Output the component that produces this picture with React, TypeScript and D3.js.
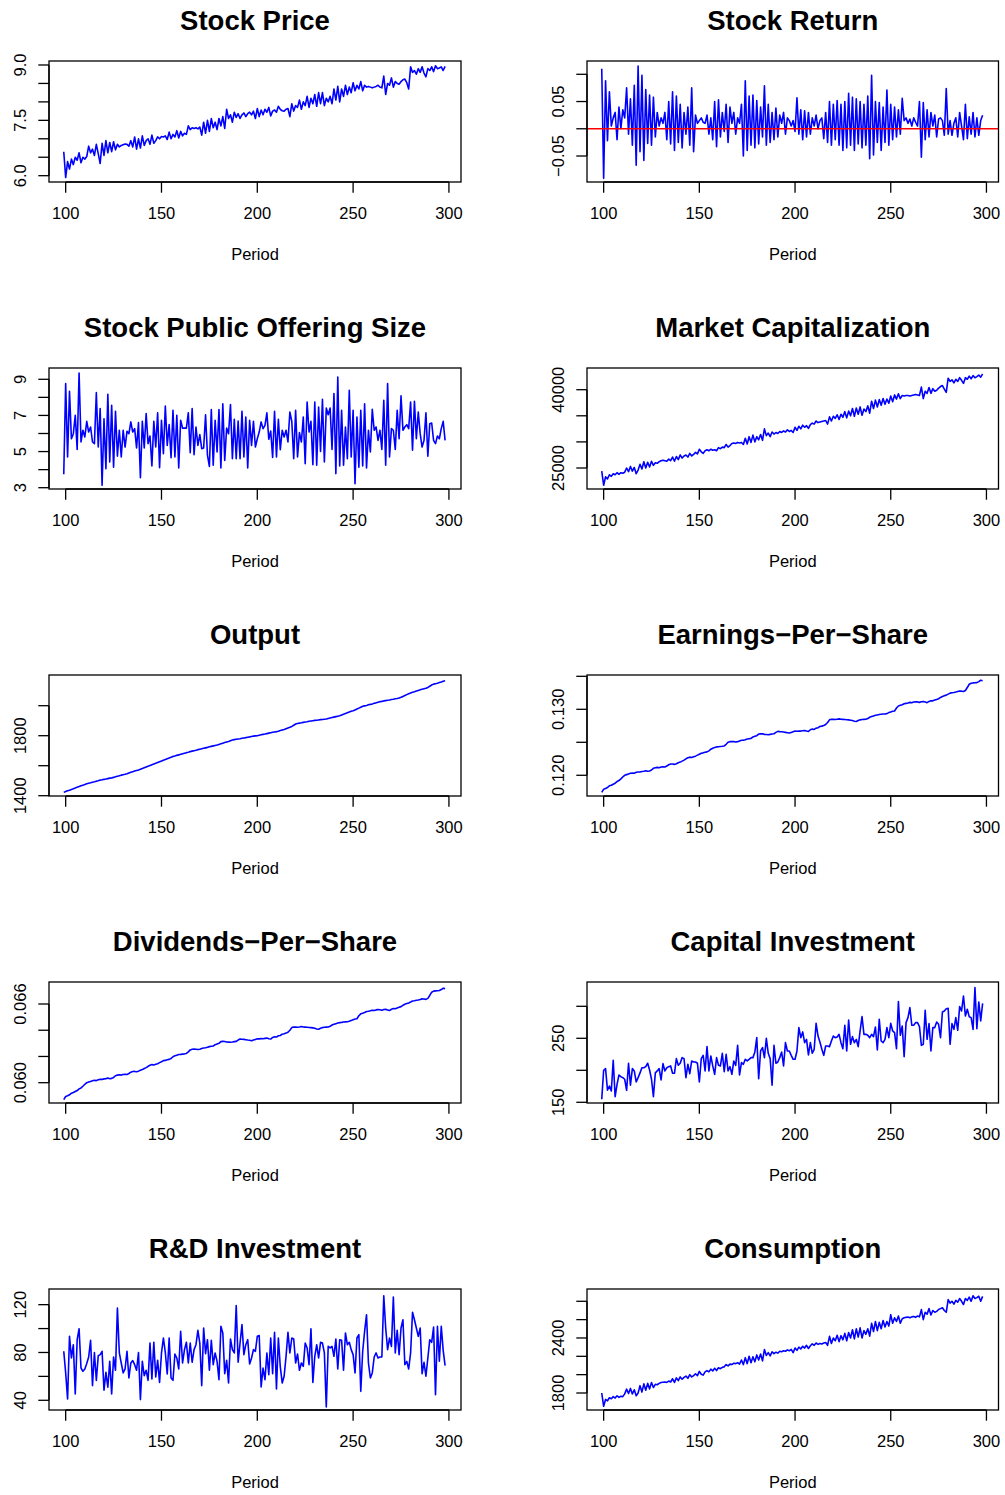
import React from "react";
import * as d3 from "d3";

// ---------- DATA (periods 99..298) ----------
const periods: number[] = d3.range(99, 299);

const stockPrice = [
  6.65, 5.95, 6.38, 6.18, 6.45, 6.30, 6.50, 6.42, 6.62, 6.35,
  6.50, 6.45, 6.52, 6.80, 6.62, 6.72, 6.55, 6.85, 6.60, 6.33,
  6.88, 6.55, 6.95, 6.62, 6.90, 6.65, 6.92, 6.70, 6.85, 6.78,
  6.82, 6.84, 6.86, 6.85, 6.80, 6.95, 6.78, 7.05, 6.72, 7.00,
  6.75, 7.08, 6.82, 6.95, 7.00, 6.85, 7.10, 6.88, 6.95, 7.05,
  7.00, 7.06, 7.05, 7.08, 6.98, 7.18, 7.00, 7.12, 7.05, 7.22,
  7.02, 7.20, 7.08, 7.15, 7.12, 7.35, 7.25, 7.30, 7.28, 7.30,
  7.27, 7.32, 7.10, 7.45, 7.15, 7.50, 7.20, 7.55, 7.30, 7.45,
  7.25, 7.55, 7.35, 7.60, 7.28, 7.80, 7.55, 7.65, 7.45, 7.72,
  7.58, 7.68, 7.55, 7.65, 7.70, 7.60, 7.68, 7.72, 7.65, 7.75,
  7.55, 7.82, 7.60, 7.78, 7.65, 7.80, 7.72, 7.85, 7.62, 7.75,
  7.78, 7.72, 7.88, 7.80, 7.76, 7.75, 7.80, 7.82, 7.60, 7.95,
  7.75, 7.90, 7.85, 8.05, 7.80, 8.00, 7.90, 8.15, 7.85, 8.10,
  7.95, 8.20, 7.88, 8.25, 7.95, 8.25, 7.90, 8.10, 8.00, 8.15,
  7.95, 8.35, 8.05, 8.42, 8.00, 8.35, 8.15, 8.45, 8.20, 8.40,
  8.25, 8.52, 8.30, 8.45, 8.35, 8.55, 8.30, 8.45, 8.40, 8.42,
  8.40, 8.38, 8.40, 8.42, 8.45, 8.40, 8.38, 8.70, 8.20, 8.50,
  8.45, 8.65, 8.40, 8.55, 8.50, 8.48, 8.55, 8.60, 8.62, 8.52,
  8.35, 8.95, 8.80, 8.85, 8.75, 8.90, 8.80, 8.95, 8.78, 8.68,
  8.90, 8.85, 8.95, 8.82, 8.98, 8.90, 8.92, 8.95, 8.85, 8.96,
];

const stockReturn = [
  0.110, -0.091, 0.088, -0.022, 0.068, 0.005, 0.020, 0.030, -0.020, 0.040,
  0.000, 0.035, 0.020, 0.075, -0.010, 0.055, -0.030, 0.080, -0.067, 0.115,
  -0.042, 0.098, -0.058, 0.072, -0.027, 0.062, -0.030, 0.058, -0.015, 0.030,
  0.005, 0.020, 0.010, 0.030, -0.020, 0.050, -0.028, 0.068, -0.040, 0.060,
  -0.025, 0.045, -0.035, 0.030, -0.010, 0.040, -0.030, 0.075, -0.042, 0.025,
  0.010, 0.015, 0.020, 0.012, 0.010, 0.025, -0.010, 0.020, -0.020, 0.050,
  -0.033, 0.053, -0.015, 0.030, -0.005, 0.045, -0.025, 0.040, 0.010, 0.030,
  -0.010, 0.020, 0.010, 0.045, -0.050, 0.088, -0.040, 0.060, -0.030, 0.062,
  -0.035, 0.052, -0.028, 0.040, -0.015, 0.079, -0.030, 0.045, -0.025, 0.030,
  -0.020, 0.038, -0.015, 0.025, 0.010, 0.030, -0.010, 0.020, 0.015, 0.005,
  0.015, -0.005, 0.057, -0.010, 0.035, -0.020, 0.033, -0.015, 0.030, -0.010,
  0.020, 0.005, 0.025, 0.000, 0.015, 0.020, -0.018, 0.030, -0.025, 0.050,
  -0.030, 0.045, -0.020, 0.052, -0.030, 0.045, -0.040, 0.050, -0.035, 0.065,
  -0.030, 0.058, -0.040, 0.055, -0.028, 0.050, -0.035, 0.045, -0.030, 0.060,
  -0.055, 0.098, -0.048, 0.050, -0.025, 0.048, -0.040, 0.040, -0.025, 0.071,
  -0.030, 0.045, -0.020, 0.040, -0.015, 0.035, -0.010, 0.056, 0.015, 0.020,
  0.010, 0.018, 0.005, 0.020, 0.012, 0.005, 0.050, -0.052, 0.048, -0.020,
  0.035, -0.015, 0.030, 0.005, 0.025, -0.015, 0.018, 0.020, 0.015, -0.012,
  0.074, -0.010, 0.015, -0.012, 0.010, 0.020, -0.015, 0.030, 0.005, -0.020,
  0.045, -0.018, 0.022, -0.010, 0.030, -0.015, 0.020, -0.012, 0.015, 0.025,
];

const offeringSize = [
  3.74, 8.76, 4.70, 8.33, 5.71, 5.99, 7.01, 5.12, 9.35, 5.53,
  6.18, 5.81, 6.67, 6.08, 6.36, 5.53, 5.44, 8.26, 5.25, 7.38,
  3.13, 6.82, 4.05, 8.17, 4.42, 7.56, 4.14, 7.23, 4.75, 6.18,
  4.70, 6.18, 5.25, 6.12, 5.99, 6.64, 6.08, 6.27, 5.20, 6.60,
  3.55, 6.67, 5.20, 7.10, 5.44, 5.86, 4.20, 6.67, 5.25, 7.15,
  4.11, 6.73, 4.88, 7.52, 5.34, 6.49, 4.66, 7.28, 4.70, 7.01,
  4.09, 6.73, 6.30, 6.30, 6.30, 7.15, 4.94, 7.38, 4.83, 6.36,
  5.34, 5.94, 5.16, 5.20, 7.04, 4.79, 4.18, 7.32, 4.24, 6.73,
  4.98, 7.32, 4.09, 7.65, 4.51, 6.30, 5.99, 7.60, 4.61, 6.78,
  4.61, 6.69, 4.61, 7.23, 4.70, 6.91, 4.09, 6.73, 5.34, 6.67,
  5.25, 5.71, 6.08, 6.64, 6.27, 6.45, 7.14, 5.68, 6.14, 4.68,
  7.23, 4.70, 6.78, 5.10, 6.18, 5.81, 6.18, 5.53, 7.19, 6.67,
  4.61, 7.28, 4.70, 6.05, 5.53, 6.91, 4.33, 7.74, 6.08, 6.67,
  4.27, 7.74, 4.24, 7.47, 5.01, 7.89, 4.42, 7.41, 7.04, 7.41,
  5.12, 8.21, 3.78, 9.13, 4.20, 7.28, 4.24, 6.36, 4.61, 8.39,
  4.70, 7.28, 3.22, 6.91, 4.14, 7.28, 4.20, 7.65, 4.09, 6.18,
  4.98, 7.34, 6.18, 6.36, 5.62, 6.18, 5.12, 7.84, 4.24, 8.76,
  4.70, 6.27, 6.18, 5.12, 7.28, 5.71, 8.08, 6.18, 6.36, 6.49,
  6.27, 7.74, 5.07, 7.78, 5.71, 7.19, 5.99, 5.25, 5.62, 7.15,
  4.74, 6.54, 6.58, 5.62, 5.44, 5.86, 5.71, 6.27, 6.67, 5.62,
];

const marketCap = [
  24400, 21700, 23300, 22900, 23700, 23400, 23900, 23700, 24100, 23800,
  24100, 24000, 24200, 25000, 24300, 25300, 24400, 25100, 23900, 24600,
  25700, 24800, 26200, 25000, 26100, 25200, 26300, 25500, 26000, 25900,
  26200, 26400, 26500, 26400, 26300, 26700, 26400, 27100, 26300, 27200,
  26600, 27500, 26900, 27300, 27500, 27100, 27800, 27300, 27600, 28000,
  27700, 28600, 28100, 27800, 28300, 28500, 28300, 28600, 28400, 28500,
  28300, 28900, 28700, 29000, 28900, 29500, 29000, 29300, 29700, 29800,
  29700, 29900, 29800, 29900, 29500, 30700, 29600, 31000, 29900, 31300,
  30000, 31000, 30400, 31400, 30300, 32500, 31200, 31700, 31000, 31900,
  31500, 31800, 31600, 32000, 31800, 32100, 31900, 32300, 32000, 32200,
  31800, 32800, 32200, 33000, 32500, 33200, 32800, 33100, 32600, 33300,
  33600, 33400, 34000, 33700, 33800, 33900, 34000, 34100, 33400, 34800,
  34000, 34900, 34500, 35200, 34300, 35300, 34700, 35800, 34600, 35900,
  35000, 36400, 34900, 36500, 35300, 36700, 35100, 36300, 35800, 36900,
  35500, 37800, 36400, 38000, 36700, 38100, 37000, 38300, 37200, 38200,
  37400, 38800, 37700, 39000, 38200, 39200, 38300, 38900, 38800, 38900,
  38900, 38800, 38900, 39000, 39100, 39000, 38900, 40500, 38300, 39700,
  39300, 40400, 39300, 40200, 39700, 39900, 40300, 40600, 40800, 40100,
  39500, 42200, 41600, 41900, 41300, 42000, 41600, 42300, 41800, 41200,
  42300, 42000, 42600, 42100, 42700, 42300, 42500, 42800, 42400, 43000,
];

const output = [
  1422, 1428, 1433, 1437, 1442, 1446, 1451, 1457, 1461, 1466,
  1470, 1474, 1479, 1483, 1486, 1490, 1493, 1497, 1500, 1504,
  1506, 1509, 1511, 1514, 1517, 1519, 1522, 1526, 1530, 1533,
  1537, 1540, 1543, 1547, 1552, 1556, 1560, 1564, 1568, 1572,
  1577, 1582, 1587, 1592, 1597, 1601, 1606, 1611, 1616, 1621,
  1626, 1631, 1637, 1642, 1647, 1652, 1657, 1662, 1665, 1669,
  1672, 1676, 1679, 1683, 1687, 1690, 1694, 1697, 1700, 1703,
  1707, 1710, 1713, 1716, 1719, 1722, 1726, 1729, 1732, 1735,
  1738, 1742, 1746, 1750, 1754, 1758, 1762, 1767, 1771, 1774,
  1776, 1778, 1780, 1783, 1785, 1787, 1790, 1792, 1795, 1797,
  1799, 1800, 1803, 1806, 1809, 1811, 1814, 1817, 1820, 1823,
  1825, 1827, 1830, 1834, 1838, 1842, 1847, 1852, 1856, 1862,
  1870, 1878, 1881, 1884, 1886, 1889, 1891, 1893, 1896, 1898,
  1900, 1902, 1903, 1905, 1907, 1908, 1910, 1911, 1915, 1918,
  1921, 1924, 1927, 1930, 1933, 1938, 1943, 1948, 1953, 1958,
  1963, 1967, 1972, 1978, 1984, 1990, 1996, 1999, 2002, 2006,
  2009, 2012, 2016, 2019, 2023, 2027, 2029, 2032, 2034, 2036,
  2038, 2041, 2043, 2046, 2048, 2051, 2056, 2062, 2068, 2074,
  2080, 2085, 2089, 2093, 2098, 2102, 2106, 2110, 2113, 2116,
  2122, 2130, 2138, 2144, 2147, 2150, 2154, 2158, 2163, 2167,
];

const earningsPerShare = [
  0.11742, 0.11790, 0.11800, 0.11815, 0.11840, 0.11850, 0.11865, 0.11880, 0.11905, 0.11920,
  0.11945, 0.11975, 0.12000, 0.12010, 0.12020, 0.12030, 0.12035, 0.12032, 0.12045, 0.12050,
  0.12050, 0.12058, 0.12062, 0.12070, 0.12060, 0.12065, 0.12080, 0.12105, 0.12115, 0.12120,
  0.12115, 0.12125, 0.12130, 0.12125, 0.12140, 0.12160, 0.12170, 0.12172, 0.12165, 0.12175,
  0.12190, 0.12200, 0.12215, 0.12230, 0.12250, 0.12265, 0.12275, 0.12270, 0.12280, 0.12290,
  0.12305, 0.12320, 0.12335, 0.12340, 0.12350, 0.12355, 0.12370, 0.12395, 0.12410, 0.12420,
  0.12430, 0.12432, 0.12436, 0.12440, 0.12445, 0.12470, 0.12500, 0.12510, 0.12512, 0.12510,
  0.12505, 0.12510, 0.12520, 0.12530, 0.12532, 0.12540, 0.12550, 0.12555, 0.12560, 0.12580,
  0.12590, 0.12600, 0.12625, 0.12630, 0.12628, 0.12620, 0.12618, 0.12615, 0.12620, 0.12625,
  0.12630, 0.12650, 0.12665, 0.12662, 0.12660, 0.12655, 0.12650, 0.12645, 0.12640, 0.12650,
  0.12660, 0.12670, 0.12668, 0.12672, 0.12670, 0.12675, 0.12680, 0.12670, 0.12665, 0.12690,
  0.12700, 0.12695, 0.12715, 0.12720, 0.12740, 0.12745, 0.12755, 0.12770, 0.12800, 0.12840,
  0.12850, 0.12848, 0.12845, 0.12850, 0.12855, 0.12850, 0.12848, 0.12845, 0.12842, 0.12840,
  0.12835, 0.12830, 0.12820, 0.12815, 0.12830, 0.12840, 0.12845, 0.12848, 0.12850, 0.12860,
  0.12880, 0.12890, 0.12900, 0.12910, 0.12915, 0.12920, 0.12925, 0.12928, 0.12930, 0.12935,
  0.12950, 0.12960, 0.12970, 0.12975, 0.13020, 0.13050, 0.13060, 0.13070, 0.13085, 0.13090,
  0.13095, 0.13105, 0.13100, 0.13110, 0.13115, 0.13112, 0.13105, 0.13115, 0.13118, 0.13110,
  0.13100, 0.13120, 0.13130, 0.13128, 0.13140, 0.13150, 0.13160, 0.13180, 0.13195, 0.13205,
  0.13215, 0.13230, 0.13245, 0.13250, 0.13255, 0.13262, 0.13270, 0.13278, 0.13275, 0.13270,
  0.13285, 0.13330, 0.13380, 0.13395, 0.13400, 0.13402, 0.13405, 0.13420, 0.13440, 0.13434,
];

const dividendsPerShare = [
  0.05871, 0.05895, 0.05900, 0.05908, 0.05920, 0.05925, 0.05933, 0.05940, 0.05953, 0.05960,
  0.05973, 0.05988, 0.06000, 0.06005, 0.06010, 0.06015, 0.06018, 0.06016, 0.06023, 0.06025,
  0.06025, 0.06029, 0.06031, 0.06035, 0.06030, 0.06033, 0.06040, 0.06053, 0.06058, 0.06060,
  0.06058, 0.06063, 0.06065, 0.06063, 0.06070, 0.06080, 0.06085, 0.06086, 0.06083, 0.06088,
  0.06095, 0.06100, 0.06108, 0.06115, 0.06125, 0.06133, 0.06138, 0.06135, 0.06140, 0.06145,
  0.06153, 0.06160, 0.06168, 0.06170, 0.06175, 0.06178, 0.06185, 0.06198, 0.06205, 0.06210,
  0.06215, 0.06216, 0.06218, 0.06220, 0.06223, 0.06235, 0.06250, 0.06255, 0.06256, 0.06255,
  0.06253, 0.06255, 0.06260, 0.06265, 0.06266, 0.06270, 0.06275, 0.06278, 0.06280, 0.06290,
  0.06295, 0.06300, 0.06313, 0.06315, 0.06314, 0.06310, 0.06309, 0.06308, 0.06310, 0.06313,
  0.06315, 0.06325, 0.06333, 0.06331, 0.06330, 0.06328, 0.06325, 0.06323, 0.06320, 0.06325,
  0.06330, 0.06335, 0.06334, 0.06336, 0.06335, 0.06338, 0.06340, 0.06335, 0.06333, 0.06345,
  0.06350, 0.06348, 0.06358, 0.06360, 0.06370, 0.06373, 0.06378, 0.06385, 0.06400, 0.06420,
  0.06425, 0.06424, 0.06423, 0.06425, 0.06428, 0.06425, 0.06424, 0.06423, 0.06421, 0.06420,
  0.06418, 0.06415, 0.06410, 0.06408, 0.06415, 0.06420, 0.06423, 0.06424, 0.06425, 0.06430,
  0.06440, 0.06445, 0.06450, 0.06455, 0.06458, 0.06460, 0.06463, 0.06464, 0.06465, 0.06468,
  0.06475, 0.06480, 0.06485, 0.06488, 0.06510, 0.06525, 0.06530, 0.06535, 0.06543, 0.06545,
  0.06548, 0.06553, 0.06550, 0.06555, 0.06558, 0.06556, 0.06553, 0.06558, 0.06559, 0.06555,
  0.06550, 0.06560, 0.06565, 0.06564, 0.06570, 0.06575, 0.06580, 0.06590, 0.06598, 0.06603,
  0.06608, 0.06615, 0.06623, 0.06625, 0.06628, 0.06631, 0.06635, 0.06639, 0.06638, 0.06635,
  0.06643, 0.06665, 0.06690, 0.06698, 0.06700, 0.06701, 0.06703, 0.06710, 0.06720, 0.06717,
];

const capitalInvestment = [
  154.7, 200, 202.6, 169, 175.5, 167.7, 215.6, 158.8, 178, 192.7,
  190, 188.5, 186, 168.7, 211, 176.6, 202.6, 199, 181.8, 188.5,
  196, 204, 204, 205.7, 211, 200.5, 186, 158.8, 196, 199,
  202.6, 185, 210.4, 199, 204, 205.7, 206.8, 195.3, 195.3, 218.2,
  207.8, 211, 219.8, 218.2, 188.5, 209.4, 194.8, 214.6, 213, 213,
  211, 181.8, 218.2, 223.4, 199, 237, 199, 222.4, 206.8, 193.7,
  219.8, 207.8, 206.8, 226.6, 197.9, 225, 199, 205.7, 193.7, 214.6,
  207.8, 239, 192.7, 212, 209.4, 217.2, 214.6, 217.2, 219.8, 219.8,
  228.6, 251, 187, 230.2, 235.6, 219.8, 250, 226.6, 218.2, 176.6,
  239, 211, 213, 219.8, 228.6, 206.8, 243.2, 230.2, 230.2, 223.4,
  217.2, 217.2, 230.2, 266.7, 251, 260, 243.2, 248.4, 224, 243.2,
  226.6, 232.8, 273.4, 253.6, 244.3, 232.8, 223.4, 238, 238, 237,
  245.8, 253.6, 251, 252, 256.2, 243.2, 233.8, 270.3, 230.2, 278.6,
  240.6, 252.6, 243.2, 248.4, 237, 261.5, 283.8, 256.2, 256.2, 254.7,
  251, 256.2, 252.6, 267.7, 231.8, 279.7, 245.8, 243.2, 248.4, 266.7,
  251, 273.4, 261.5, 258.8, 233.8, 307.3, 254.7, 269.3, 221.4, 274.5,
  282.3, 297.9, 270.3, 270.3, 274.5, 274.5, 268.2, 239, 240.6, 293.7,
  248.4, 272.9, 230.2, 266.7, 266.7, 275.5, 271.9, 251, 291.1, 292.7,
  296.3, 296.8, 240.6, 272.9, 264, 282.3, 262.5, 299.5, 292.7, 316.1,
  284.9, 295.3, 283.8, 282.3, 264, 329.2, 265.1, 306.8, 277.1, 304.7,
];

const rdInvestment = [
  81, 62.9, 41.1, 93.5, 75.4, 86.5, 45.3, 90.7, 99.9, 67,
  64.2, 66.2, 70.7, 76.2, 90.2, 52.3, 80, 56.7, 77.3, 78.2,
  81, 48.4, 63.4, 50.9, 72.6, 45.3, 76.2, 65.1, 117.2, 79.6,
  71.2, 62.9, 66.2, 81, 58.7, 71.2, 73.2, 69.8, 65.1, 80,
  40.6, 72.6, 60.6, 65.1, 56.7, 87.9, 57.8, 88.5, 59.5, 73.4,
  55, 79.6, 92.1, 80, 62, 92.1, 58.7, 56.7, 78.7, 75.4,
  66.2, 97.7, 71.2, 82.4, 88.5, 71.2, 87.9, 71.8, 82.4, 86.5,
  98.5, 87.9, 52.3, 100.5, 79, 90.7, 65.1, 90.2, 69.8, 79.6,
  72.6, 57.3, 101.9, 96.3, 62.3, 73.4, 54.5, 91.3, 82.4, 79.6,
  119.2, 71.8, 87.9, 103.3, 78.2, 86.5, 90.7, 70.4, 75.4, 82.4,
  81, 93.5, 94.1, 51.1, 67, 57.3, 79.6, 61.5, 92.1, 62.3,
  96.9, 49.5, 92.1, 67.9, 54.5, 60.1, 76.8, 96.9, 79.6, 92.1,
  91.3, 71.2, 78.7, 65.1, 71.2, 68.4, 87.9, 83.8, 69.8, 99.9,
  55, 76.8, 86.5, 75.4, 88.5, 87.9, 79.6, 34.4, 85.1, 83.8,
  85.1, 76.8, 91.3, 66.2, 90.7, 90.2, 65.1, 96.3, 86.5, 88.5,
  82.4, 78.2, 62.9, 92.1, 94.9, 47.5, 81, 97.7, 111.6, 71.2,
  58.7, 62.9, 76.2, 79.6, 75.4, 76.2, 76.2, 127.5, 100.5, 82.4,
  92.1, 85.1, 126.4, 79.6, 98.5, 78.2, 100.5, 107.4, 69.8, 72.6,
  66.2, 79.6, 113.6, 107.4, 100.5, 93.5, 100.5, 62.3, 71.8, 60.1,
  75.4, 90.7, 88.5, 101.3, 44.7, 101.9, 72.6, 101.9, 81.8, 69,
];

const consumption = [
  1800, 1655, 1730, 1715, 1748, 1738, 1760, 1745, 1770, 1752,
  1765, 1760, 1790, 1842, 1795, 1850, 1790, 1835, 1770, 1800,
  1880, 1810, 1900, 1830, 1905, 1845, 1915, 1860, 1895, 1890,
  1905, 1915, 1918, 1920, 1915, 1930, 1920, 1955, 1915, 1965,
  1935, 1975, 1950, 1970, 1985, 1960, 2000, 1975, 1990, 2010,
  1990, 2036, 2005, 1995, 2030, 2045, 2030, 2060, 2040, 2070,
  2045, 2075, 2065, 2080, 2085, 2110, 2095, 2115, 2110, 2125,
  2120, 2130, 2115, 2160, 2110, 2185, 2120, 2200, 2130, 2195,
  2140, 2215, 2160, 2225, 2150, 2273, 2210, 2240, 2205, 2250,
  2230, 2245, 2235, 2255, 2250, 2260, 2255, 2270, 2260, 2275,
  2240, 2290, 2265, 2300, 2280, 2310, 2290, 2320, 2285, 2315,
  2335, 2320, 2345, 2330, 2340, 2335, 2345, 2350, 2320, 2418,
  2340, 2400, 2370, 2430, 2360, 2425, 2380, 2450, 2370, 2460,
  2400, 2490, 2390, 2500, 2410, 2510, 2400, 2480, 2440, 2500,
  2420, 2560, 2470, 2580, 2480, 2570, 2500, 2590, 2520, 2580,
  2530, 2654, 2560, 2620, 2580, 2640, 2560, 2610, 2620, 2625,
  2628, 2620, 2630, 2635, 2625, 2640, 2630, 2709, 2600, 2680,
  2660, 2720, 2650, 2700, 2680, 2690, 2710, 2720, 2730, 2700,
  2680, 2818, 2780, 2800, 2770, 2810, 2790, 2830, 2800, 2765,
  2830, 2810, 2845, 2800, 2860, 2830, 2840, 2855, 2800, 2854,
];

// ---------- TICKS ----------
const xTicks = [100, 150, 200, 250, 300];

const priceTicks = [6.0, 6.5, 7.0, 7.5, 8.0, 8.5, 9.0];
const priceTickLabels = ["6.0", "", "", "7.5", "", "", "9.0"];
const returnTicks = [-0.05, 0, 0.05, 0.1];
const returnTickLabels = ["\u22120.05", "", "0.05", ""];
const offeringTicks = [3, 4, 5, 6, 7, 8, 9];
const offeringTickLabels = ["3", "", "5", "", "7", "", "9"];
const capTicks = [25000, 30000, 35000, 40000];
const capTickLabels = ["25000", "", "", "40000"];
const outputTicks = [1400, 1600, 1800, 2000];
const outputTickLabels = ["1400", "", "1800", ""];
const epsTicks = [0.12, 0.125, 0.13, 0.135];
const epsTickLabels = ["0.120", "", "0.130", ""];
const dpsTicks = [0.06, 0.062, 0.064, 0.066];
const dpsTickLabels = ["0.060", "", "", "0.066"];
const invTicks = [150, 200, 250, 300];
const invTickLabels = ["150", "", "250", ""];
const rdTicks = [40, 60, 80, 100, 120];
const rdTickLabels = ["40", "", "80", "", "120"];
const consTicks = [1800, 2000, 2200, 2400, 2600, 2800];
const consTickLabels = ["1800", "", "", "2400", "", ""];

type PanelCfg = {
  title: string;
  values: number[];
  yDomain: [number, number];
  ticks: number[];
  labels: string[];
  col: number;
  row: number;
  zeroLine?: boolean;
};

const panels: PanelCfg[] = [
  { title: "Stock Price", values: stockPrice, yDomain: [5.829, 9.108], ticks: priceTicks, labels: priceTickLabels, col: 0, row: 0 },
  { title: "Stock Return", values: stockReturn, yDomain: [-0.0977, 0.1244], ticks: returnTicks, labels: returnTickLabels, col: 1, row: 0, zeroLine: true },
  { title: "Stock Public Offering Size", values: offeringSize, yDomain: [2.928, 9.625], ticks: offeringTicks, labels: offeringTickLabels, col: 0, row: 1 },
  { title: "Market Capitalization", values: marketCap, yDomain: [20977, 44157], ticks: capTicks, labels: capTickLabels, col: 1, row: 1 },
  { title: "Output", values: output, yDomain: [1398, 2204.7], ticks: outputTicks, labels: outputTickLabels, col: 0, row: 2 },
  { title: "Earnings\u2212Per\u2212Share", values: earningsPerShare, yDomain: [0.11686, 0.1352], ticks: epsTicks, labels: epsTickLabels, col: 1, row: 2 },
  { title: "Dividends\u2212Per\u2212Share", values: dividendsPerShare, yDomain: [0.058452, 0.067677], ticks: dpsTicks, labels: dpsTickLabels, col: 0, row: 3 },
  { title: "Capital Investment", values: capitalInvestment, yDomain: [148.9, 337.97], ticks: invTicks, labels: invTickLabels, col: 1, row: 3 },
  { title: "R&D Investment", values: rdInvestment, yDomain: [31.88, 133.1], ticks: rdTicks, labels: rdTickLabels, col: 0, row: 4 },
  { title: "Consumption", values: consumption, yDomain: [1614.6, 2934], ticks: consTicks, labels: consTickLabels, col: 1, row: 4 },
];

// ---------- LAYOUT ----------
const W = 1005;
const H = 1495;
const colBox: [number, number][] = [
  [49, 461],
  [587, 998.5],
];
const rowTop0 = 61;
const rowStep = 307;
const boxH = 121;
const xDomain: [number, number] = [91.3, 306.3];
const FONT = "'Liberation Sans', Arial, Helvetica, sans-serif";
const tickLen = 10.7;

function Panel({ cfg }: { cfg: PanelCfg }) {
  const [left, right] = colBox[cfg.col];
  const top = rowTop0 + cfg.row * rowStep;
  const bottom = top + boxH;
  const x = d3.scaleLinear().domain(xDomain).range([left, right]);
  const y = d3.scaleLinear().domain(cfg.yDomain).range([bottom, top]);
  const line = d3
    .line<number>()
    .x((_, i) => x(periods[i]))
    .y((d) => y(d));
  const cx = (left + right) / 2;
  const yMin = d3.min(cfg.ticks) as number;
  const yMax = d3.max(cfg.ticks) as number;
  return (
    <g>
      <text x={cx} y={top - 31} textAnchor="middle" fontFamily={FONT} fontWeight="bold" fontSize={27.5} fill="#000">
        {cfg.title}
      </text>
      <path d={line(cfg.values) || ""} fill="none" stroke="#0000ff" strokeWidth={1.6} strokeLinejoin="round" />
      {cfg.zeroLine && (
        <line x1={left} x2={right} y1={y(0)} y2={y(0)} stroke="#ff0000" strokeWidth={1.5} />
      )}
      <rect x={left} y={top} width={right - left} height={boxH} fill="none" stroke="#000" strokeWidth={1.3} />
      {/* x axis */}
      <line x1={x(xTicks[0])} x2={x(xTicks[xTicks.length - 1])} y1={bottom} y2={bottom} stroke="#000" strokeWidth={1.3} />
      {xTicks.map((t) => (
        <g key={"x" + t}>
          <line x1={x(t)} x2={x(t)} y1={bottom} y2={bottom + tickLen} stroke="#000" strokeWidth={1.3} />
          <text x={x(t)} y={bottom + 36.5} textAnchor="middle" fontFamily={FONT} fontSize={16.5} fill="#000">
            {t}
          </text>
        </g>
      ))}
      <text x={cx} y={bottom + 77.5} textAnchor="middle" fontFamily={FONT} fontSize={16.5} fill="#000">
        Period
      </text>
      {/* y axis */}
      <line x1={left} x2={left} y1={y(yMin)} y2={y(yMax)} stroke="#000" strokeWidth={1.3} />
      {cfg.ticks.map((t, i) => (
        <g key={"y" + i}>
          <line x1={left - tickLen} x2={left} y1={y(t)} y2={y(t)} stroke="#000" strokeWidth={1.3} />
          {cfg.labels[i] !== "" && (
            <text
              transform={`translate(${left - 23},${y(t)}) rotate(-90)`}
              textAnchor="middle"
              fontFamily={FONT}
              fontSize={16.5}
              fill="#000"
            >
              {cfg.labels[i]}
            </text>
          )}
        </g>
      ))}
    </g>
  );
}

export default function App() {
  return (
    <svg
      width={W}
      height={H}
      viewBox={`0 0 ${W} ${H}`}
      style={{ position: "absolute", left: 0, top: 0, background: "#fff" }}
    >
      <rect x={0} y={0} width={W} height={H} fill="#fff" />
      {panels.map((p) => (
        <Panel key={p.title} cfg={p} />
      ))}
    </svg>
  );
}
